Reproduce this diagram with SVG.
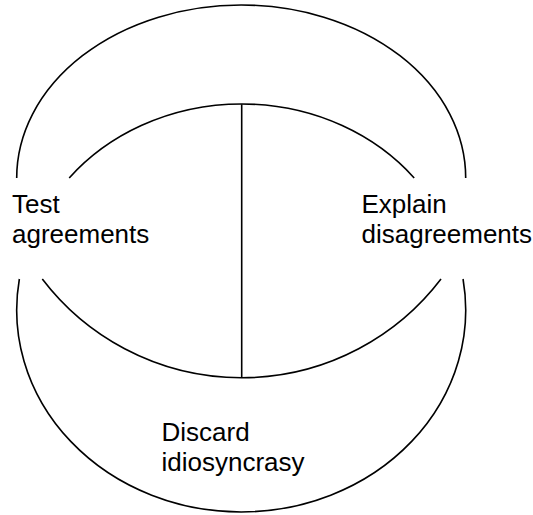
<svg xmlns="http://www.w3.org/2000/svg" width="533" height="515" viewBox="0 0 533 515">
<style>
.arc{fill:none;stroke:#000;stroke-width:1.6}
.lbl{font-family:"Liberation Sans",Arial,sans-serif;font-size:26px;fill:#000}
</style>
<rect width="533" height="515" fill="#fff"/>
<g id="connectors">
<path class="arc" d="M 16.7 178 A 224.5 173 0 0 1 465.7 178"/>
<path class="arc" d="M 19.35 279 A 224.5 202 0 1 0 463.05 279"/>
<path class="arc" d="M 69.2 178 A 220.4 196 0 0 1 414.2 178"/>
<path class="arc" d="M 42.3 279 A 250.4 250 0 0 0 441 279"/>
<line class="arc" x1="241.7" y1="104.3" x2="241.7" y2="377.7"/>
</g>
<g id="test-agreements">
<text class="lbl" x="12" y="213.3">Test</text>
<text class="lbl" x="12" y="242.5">agreements</text>
</g>
<g id="explain-disagreements">
<text class="lbl" x="361.5" y="213.3">Explain</text>
<text class="lbl" x="361.5" y="242.5">disagreements</text>
</g>
<g id="discard-idiosyncrasy">
<text class="lbl" x="161.5" y="441">Discard</text>
<text class="lbl" x="161.5" y="470.5">idiosyncrasy</text>
</g>
</svg>
